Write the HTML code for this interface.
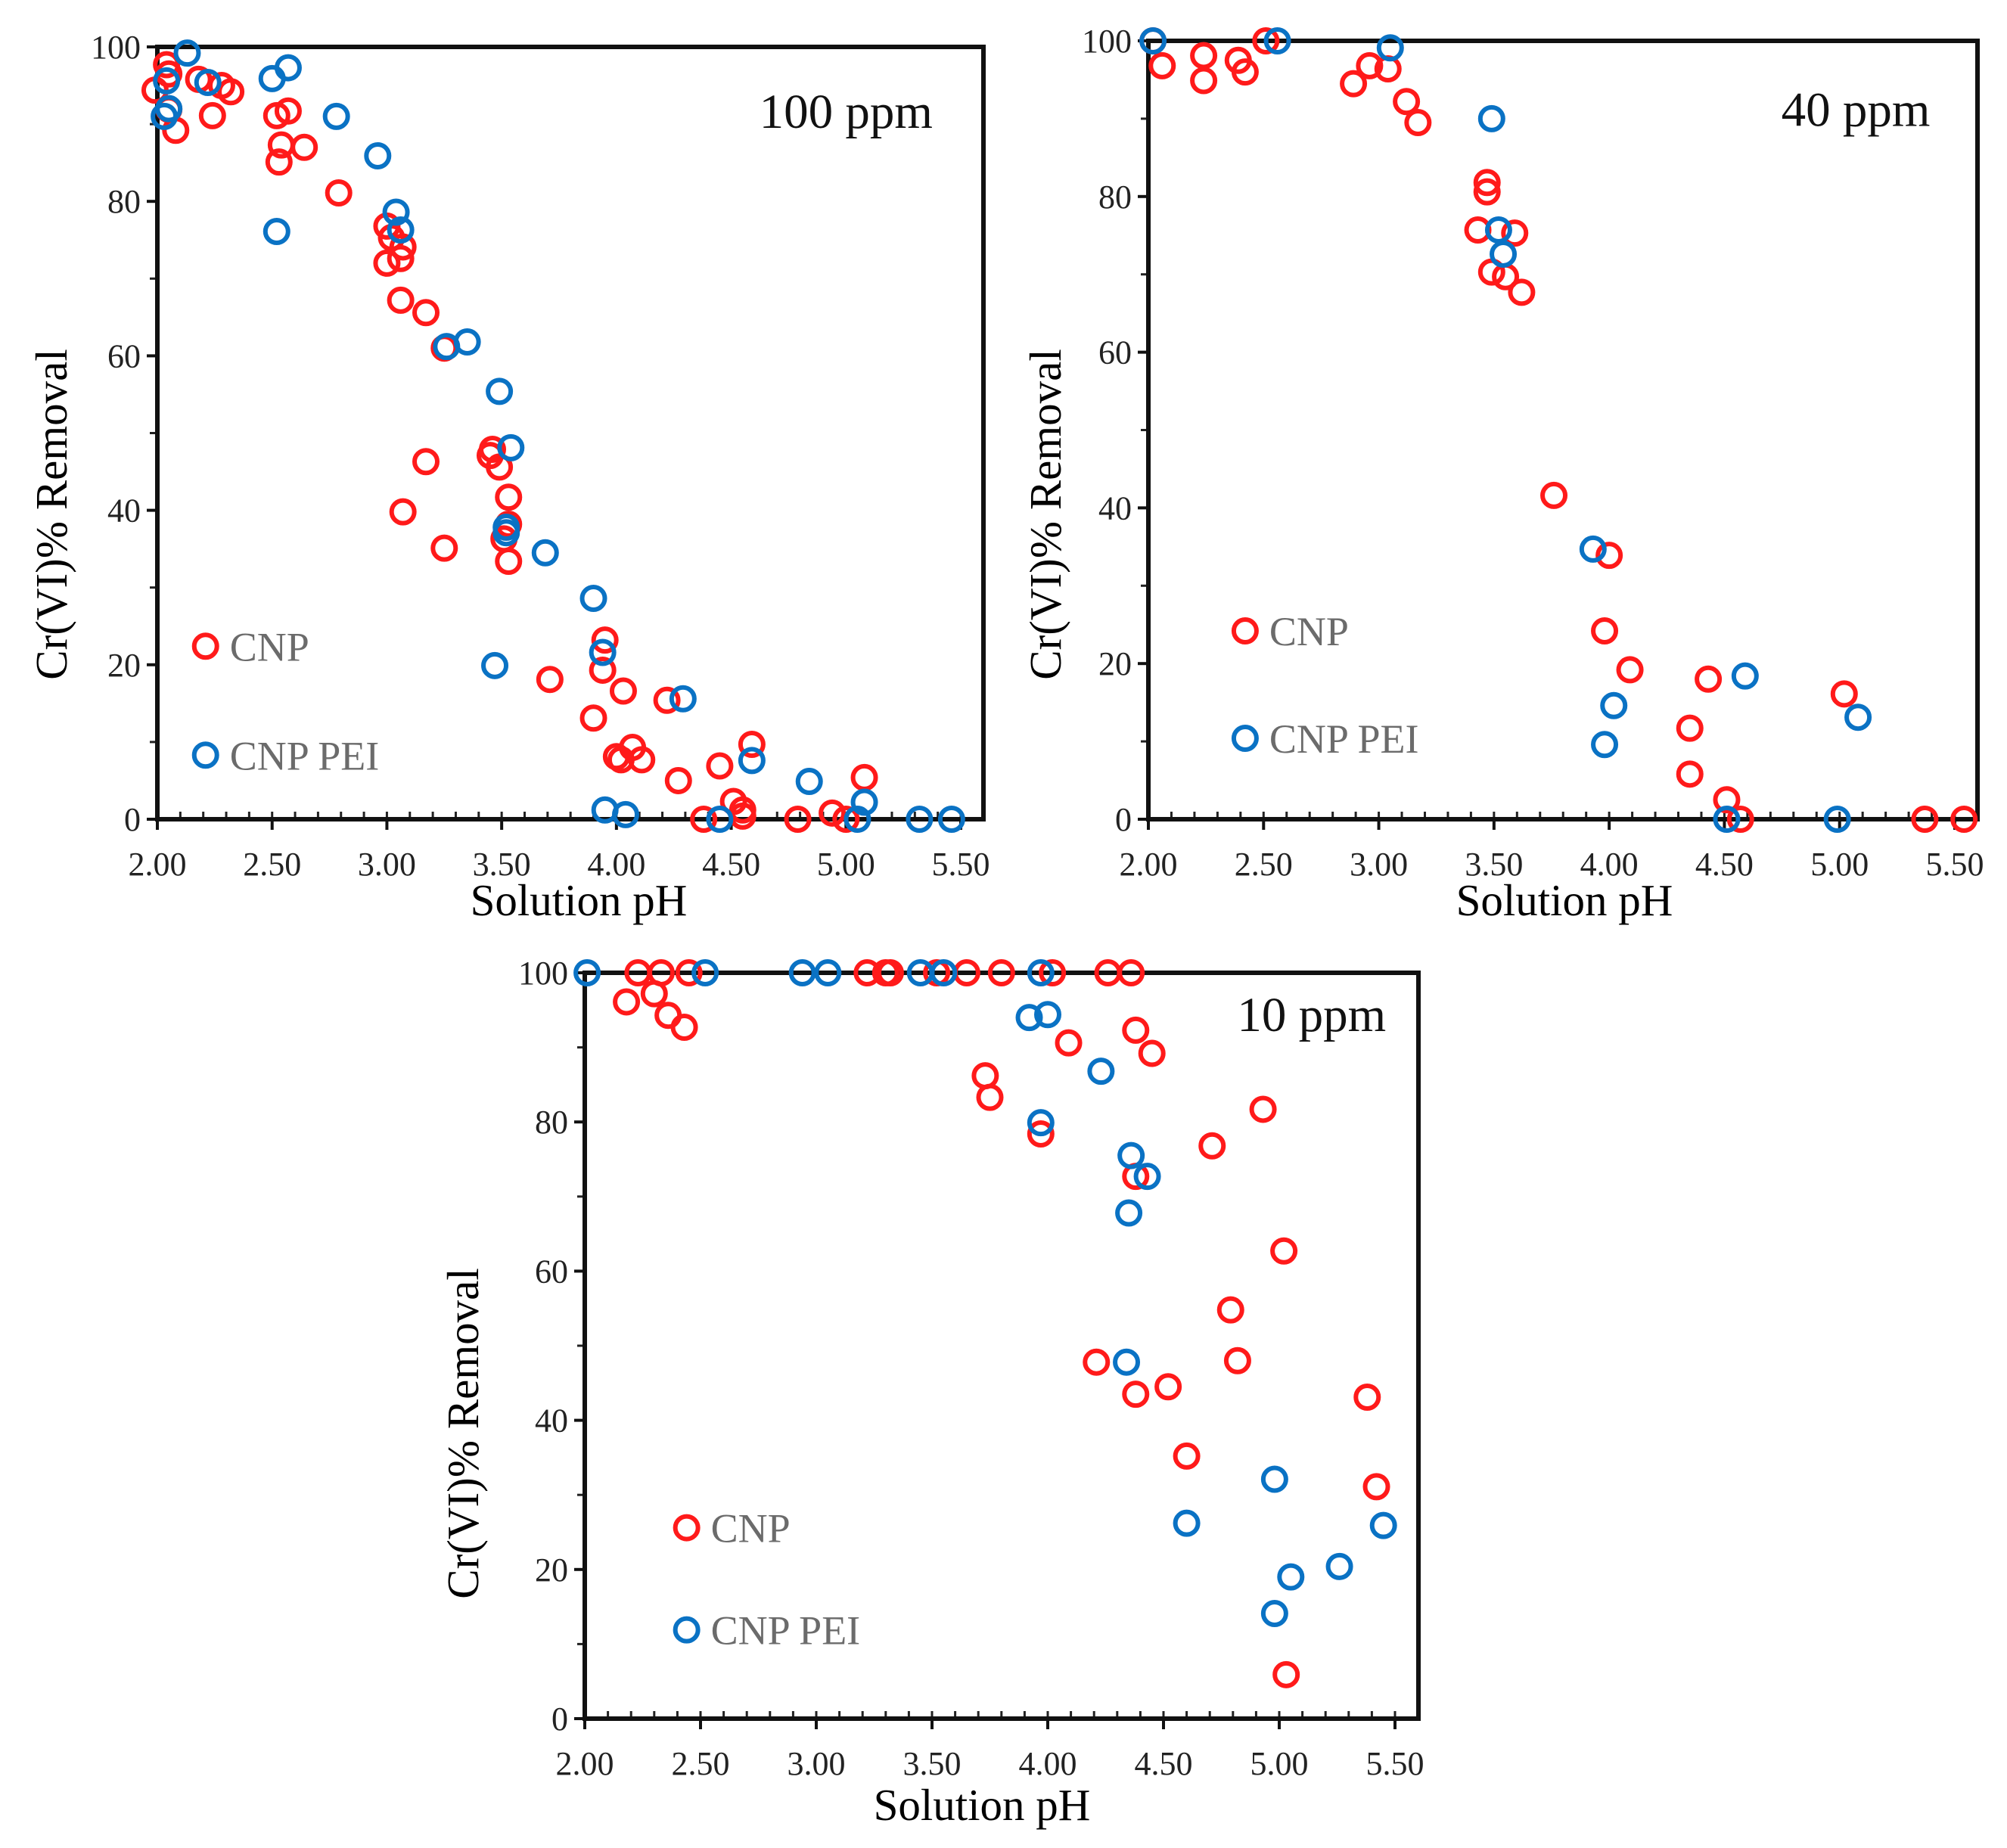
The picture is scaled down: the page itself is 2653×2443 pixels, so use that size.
<!DOCTYPE html>
<html><head><meta charset="utf-8"><style>
html,body{margin:0;padding:0;background:#fff;}
svg{display:block;}
text{font-family:"Liberation Serif",serif;}
</style></head><body>
<svg id="chart" width="2653" height="2443" viewBox="0 0 2653 2443" xmlns="http://www.w3.org/2000/svg"></svg>
<script>
const xTicks = [2.0,2.5,3.0,3.5,4.0,4.5,5.0,5.5];
const xTickLabels = ["2.00","2.50","3.00","3.50","4.00","4.50","5.00","5.50"];
const yTicks = [0,20,40,60,80,100];
const yTickLabels = ["0","20","40","60","80","100"];
const seriesNames = ["CNP","CNP PEI"];
const panelTitles = ["100 ppm","40 ppm","10 ppm"];

const p1CnpX = [1.99,2.04,2.05,2.08,2.05,2.18,2.24,2.32,2.28,2.52,2.57,2.54,2.53,2.64,2.79,3.00,3.02,3.07,3.06,3.00,3.06,3.17,3.25,3.17,3.07,3.25,3.45,3.46,3.49,3.53,3.51,3.53,3.53,3.71,3.95,3.94,3.90,4.03,4.00,4.02,4.07,4.11,4.22,4.27,4.38,4.45,4.51,4.55,4.55,4.59,4.79,4.94,5.00,5.08];
const p1CnpY = [94.4,97.7,96.5,89.2,91.9,95.8,91.1,94.2,95.0,91.1,91.7,87.3,85.1,87.0,81.1,76.8,75.3,74.1,72.6,72.0,67.2,65.6,61.0,46.3,39.8,35.1,47.1,47.9,45.6,41.7,36.3,38.2,33.4,18.1,23.2,19.3,13.1,16.6,8.1,7.7,9.3,7.7,15.4,5.0,0,6.9,2.3,1.2,0.4,9.7,0,0.8,0,5.4];
const p1PeiX = [2.13,2.04,2.03,2.05,2.22,2.50,2.57,2.52,2.78,2.96,3.04,3.06,3.26,3.35,3.49,3.54,3.52,3.52,3.47,3.69,3.90,3.94,3.95,4.04,4.29,4.45,4.59,4.84,5.05,5.08,5.32,5.46];
const p1PeiY = [99.2,95.6,91.0,92.0,95.4,95.9,97.3,76.1,91.0,85.9,78.6,76.3,61.2,61.8,55.4,48.1,37.8,37.1,19.9,34.5,28.6,21.6,1.2,0.6,15.6,0,7.6,4.9,0,2.2,0,0];

const p2CnpX = [2.02,2.06,2.24,2.24,2.39,2.42,2.51,2.89,2.96,3.04,3.12,3.17,3.47,3.47,3.43,3.59,3.49,3.55,3.62,3.76,4.00,3.98,4.09,4.35,4.43,4.35,4.51,4.57,5.02,5.37,5.54];
const p2CnpY = [100,96.8,98.1,94.9,97.5,96.0,100,94.5,96.8,96.4,92.2,89.5,81.8,80.6,75.7,75.3,70.3,69.7,67.7,41.6,33.9,24.2,19.2,11.7,18.0,5.8,2.5,0,16.1,0,0];
const p2PeiX = [2.02,2.56,3.05,3.49,3.52,3.54,3.93,4.02,3.98,4.59,4.51,4.99,5.08];
const p2PeiY = [100,100,99.1,90.0,75.7,72.6,34.7,14.6,9.6,18.4,0,0,13.1];

const p3CnpX = [2.23,2.33,2.45,2.18,2.30,2.36,2.43,3.22,3.30,3.32,3.52,3.65,3.80,4.02,4.26,4.36,3.73,3.75,3.97,4.09,4.38,4.45,4.38,4.21,4.38,4.52,4.60,4.71,4.93,5.02,4.79,4.82,5.38,5.42,5.03];
const p3CnpY = [100,100,100,96.1,97.2,94.3,92.7,100,100,100,100,100,100,100,100,100,86.2,83.3,78.4,90.6,92.3,89.2,72.7,47.8,43.5,44.5,35.2,76.8,81.7,62.7,54.8,48.0,43.1,31.1,5.9];
const p3PeiX = [2.01,2.52,2.94,3.05,3.45,3.55,3.97,3.92,4.00,4.23,3.97,4.36,4.43,4.35,4.34,4.60,4.98,5.05,4.98,5.26,5.45];
const p3PeiY = [100,100,100,100,100,100,100,94.0,94.4,86.8,79.9,75.5,72.7,67.8,47.8,26.2,32.1,19.0,14.1,20.4,25.9];

const panels = [
 {name:"panel-100-ppm", x0:208, x1:1270, xr:1300, yTop:62, yBot:1083, title:panelTitles[0], tx:5.0, ty:91.5,
  cx:p1CnpX, cy:p1CnpY, px:p1PeiX, py:p1PeiY, lg:[2.21,22.4,8.3], ylabX:68, ylabY:680, xlabX:765, xlabY:1210},
 {name:"panel-40-ppm", x0:1518, x1:2584, xr:2614, yTop:54, yBot:1083, title:panelTitles[1], tx:5.07, ty:91,
  cx:p2CnpX, cy:p2CnpY, px:p2PeiX, py:p2PeiY, lg:[2.42,24.2,10.4], ylabX:1382, ylabY:680, xlabX:2068, xlabY:1210},
 {name:"panel-10-ppm", x0:773, x1:1844, xr:1875, yTop:1286, yBot:2272, title:panelTitles[2], tx:5.14, ty:94.2,
  cx:p3CnpX, cy:p3CnpY, px:p3PeiX, py:p3PeiY, lg:[2.44,25.6,11.9], ylabX:612, ylabY:1895, xlabX:1298, xlabY:2406}
];
const NS="http://www.w3.org/2000/svg";
const svg=document.getElementById('chart');
function mk(tag,attrs,parent){const e=document.createElementNS(NS,tag);for(const k in attrs)e.setAttribute(k,attrs[k]);parent.appendChild(e);return e;}
const RED="#ff1a1a", BLUE="#0a72c4";
panels.forEach(p=>{
  const g=mk('g',{},svg);
  
  
  const sx=v=>p.x0+(v-2)*(p.x1-p.x0)/3.5;
  const sy=v=>p.yBot-v*(p.yBot-p.yTop)/100;
  for(let v=2.1;v<5.55;v+=0.1){const x=sx(v);mk('line',{x1:x,x2:x,y1:p.yBot,y2:p.yBot-10,stroke:'#222','stroke-width':3},g);}
  for(let v=10;v<100;v+=10){const y=sy(v);mk('line',{x1:p.x0-10,x2:p.x0,y1:y,y2:y,stroke:'#222','stroke-width':3},g);}
  const frame=mk('rect',{x:p.x0,y:p.yTop,width:p.xr-p.x0,height:p.yBot-p.yTop,fill:'none',stroke:'#111','stroke-width':6},g);
  
  
  xTicks.forEach((v,i)=>{
    const x=sx(v);
    mk('line',{x1:x,x2:x,y1:p.yBot,y2:p.yBot+14,stroke:'#111','stroke-width':4},g);
    const t=mk('text',{x:x,y:p.yBot+74,'font-size':44,'text-anchor':'middle',fill:'#222'},g);
    t.textContent=xTickLabels[i];
    
    
  });
  yTicks.forEach((v,i)=>{
    const y=sy(v);
    mk('line',{x1:p.x0-14,x2:p.x0,y1:y,y2:y,stroke:'#111','stroke-width':4},g);
    const t=mk('text',{x:p.x0-22,y:y+15,'font-size':44,'text-anchor':'end',fill:'#222'},g);
    t.textContent=yTickLabels[i];
    
    
  });
  const xl=mk('text',{x:p.xlabX,y:p.xlabY,'font-size':59,'text-anchor':'middle',fill:'#000'},g);
  xl.textContent='Solution pH';
  
  
  const yl=mk('text',{x:0,y:0,'font-size':59,'text-anchor':'middle',fill:'#000',transform:`translate(${p.ylabX+20},${p.ylabY}) rotate(-90)`},g);
  yl.textContent='Cr(VI)% Removal';
  
  
  const tt=mk('text',{x:sx(p.tx),y:sy(p.ty)+20,'font-size':65,'text-anchor':'middle',fill:'#111'},g);
  tt.textContent=p.title;
  
  
  p.cx.forEach((v,i)=>{
    const c=mk('circle',{cx:sx(v),cy:sy(p.cy[i]),r:15,fill:'none',stroke:RED,'stroke-width':6},g);
    
    
  });
  p.px.forEach((v,i)=>{
    const c=mk('circle',{cx:sx(v),cy:sy(p.py[i]),r:15,fill:'none',stroke:BLUE,'stroke-width':6},g);
    
    
  });
  [[RED,p.lg[1],seriesNames[0]],[BLUE,p.lg[2],seriesNames[1]]].forEach(([col,yv,lab])=>{
    const lx=sx(p.lg[0]), ly=sy(yv);
    const c=mk('circle',{cx:lx,cy:ly,r:15,fill:'none',stroke:col,'stroke-width':6},g);
    
    
    const t=mk('text',{x:lx+32,y:ly+19,'font-size':54,fill:'#6b6b6b'},g);
    t.textContent=lab;
    
    
  });
});
</script>
</body></html>
